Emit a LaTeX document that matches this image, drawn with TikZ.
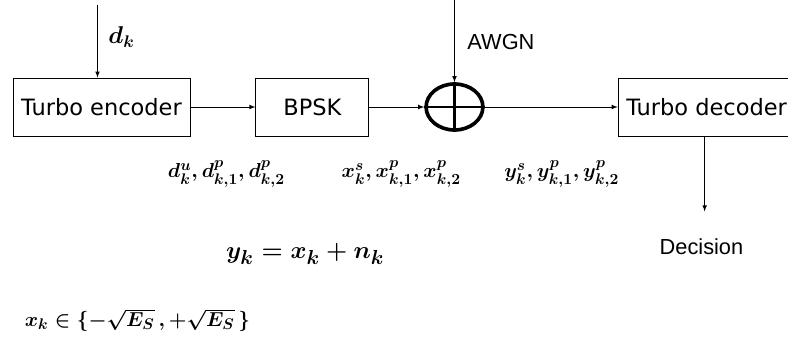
\documentclass[tikz,border=0pt]{standalone}
\usepackage{amsmath, amssymb}
\usepackage[no-math]{fontspec}
\usetikzlibrary{positioning, shapes.geometric}
\newfontfamily\boxfont{DejaVu Sans}
\newfontfamily\notefont{Liberation Sans}

\tikzset{
    block/.style={draw, line width=0.6pt, minimum height=1.45cm,
        font=\fontsize{16}{19}\boxfont},
    link/.style={-latex, line width=0.5pt},
    sym/.style={font=\fontsize{15}{18}\selectfont\boldmath, inner sep=0pt},
    note/.style={font=\fontsize{15.5}{18}\notefont},
}

\begin{document}
\begin{tikzpicture}
    \useasboundingbox (0,0) rectangle (19.7,-8.55);

    % TRANSMITTER
    \node [block, minimum width=4.425cm] (enc) at (2.5375,-2.675) {Turbo encoder};
    \node [block, minimum width=2.825cm, right = 1.625cm of enc] (bpsk) {BPSK};

    % CHANNEL
    \node [draw, ellipse, line width=2.6pt, minimum width=1.42cm,
        minimum height=1.15cm, right = 1.375cm of bpsk] (sum) {};
    \draw [line width=1.8pt] (sum.north) -- (sum.south);
    \draw [line width=1.8pt] (sum.west) -- (sum.east);

    % RECEIVER
    \node [block, minimum width=4.425cm, right = 3.325cm of sum] (dec) {Turbo decoder};

    % Free ends of the input arrows and the decision arrow
    \coordinate [above = 1.825cm of enc.north, xshift=-0.1cm] (din);
    \coordinate [above = 2.1cm of sum.north] (noise);
    \coordinate [below = 1.875cm of dec.south, xshift=-0.05cm] (decout);

    % Texts
    \node [sym, font=\fontsize{17}{20}\selectfont\boldmath,
        above = 0.75cm of enc.north, xshift=0.5cm] (dklabel) {$d_k$};
    \node [note, right = 0.2cm of sum.north, yshift=1.0cm] (awgn) {AWGN};
    \node [note, below = 0.55cm of decout, xshift=-0.08cm] (decision) {Decision};
    \node [sym, below = 0.6cm of enc.south east, xshift=0.9cm] (encbits)
        {$d^{u}_{k}, d^{p}_{k,1}, d^{p}_{k,2}$};
    \node [sym, below = 0.6cm of bpsk.south east, xshift=0.8cm] (txsyms)
        {$x^{s}_{k}, x^{p}_{k,1}, x^{p}_{k,2}$};
    \node [sym, below = 0.6cm of dec.south west, xshift=-1.4cm] (rxsyms)
        {$y^{s}_{k}, y^{p}_{k,1}, y^{p}_{k,2}$};
    \node [sym, font=\fontsize{19}{22}\selectfont\boldmath,
        below = 2.675cm of bpsk.south, xshift=-0.18cm] (channel)
        {$y_k = x_k + n_k$};
    \node [sym, below = 4.3cm of enc.south west, anchor=north west,
        xshift=0.3cm] (alphabet)
        {$x_k \in \{-\sqrt{E_S}\,, +\sqrt{E_S}\,\}$};

    % Arrows
    \draw [link] (din) -- (din |- enc.north);
    \draw [link] (enc) -- (bpsk);
    \draw [link] (bpsk) -- (sum);
    \draw [link] (noise) -- (sum);
    \draw [link] (sum) -- (dec);
    \draw [link] (dec.south -| decout) -- (decout);
\end{tikzpicture}
\end{document}
